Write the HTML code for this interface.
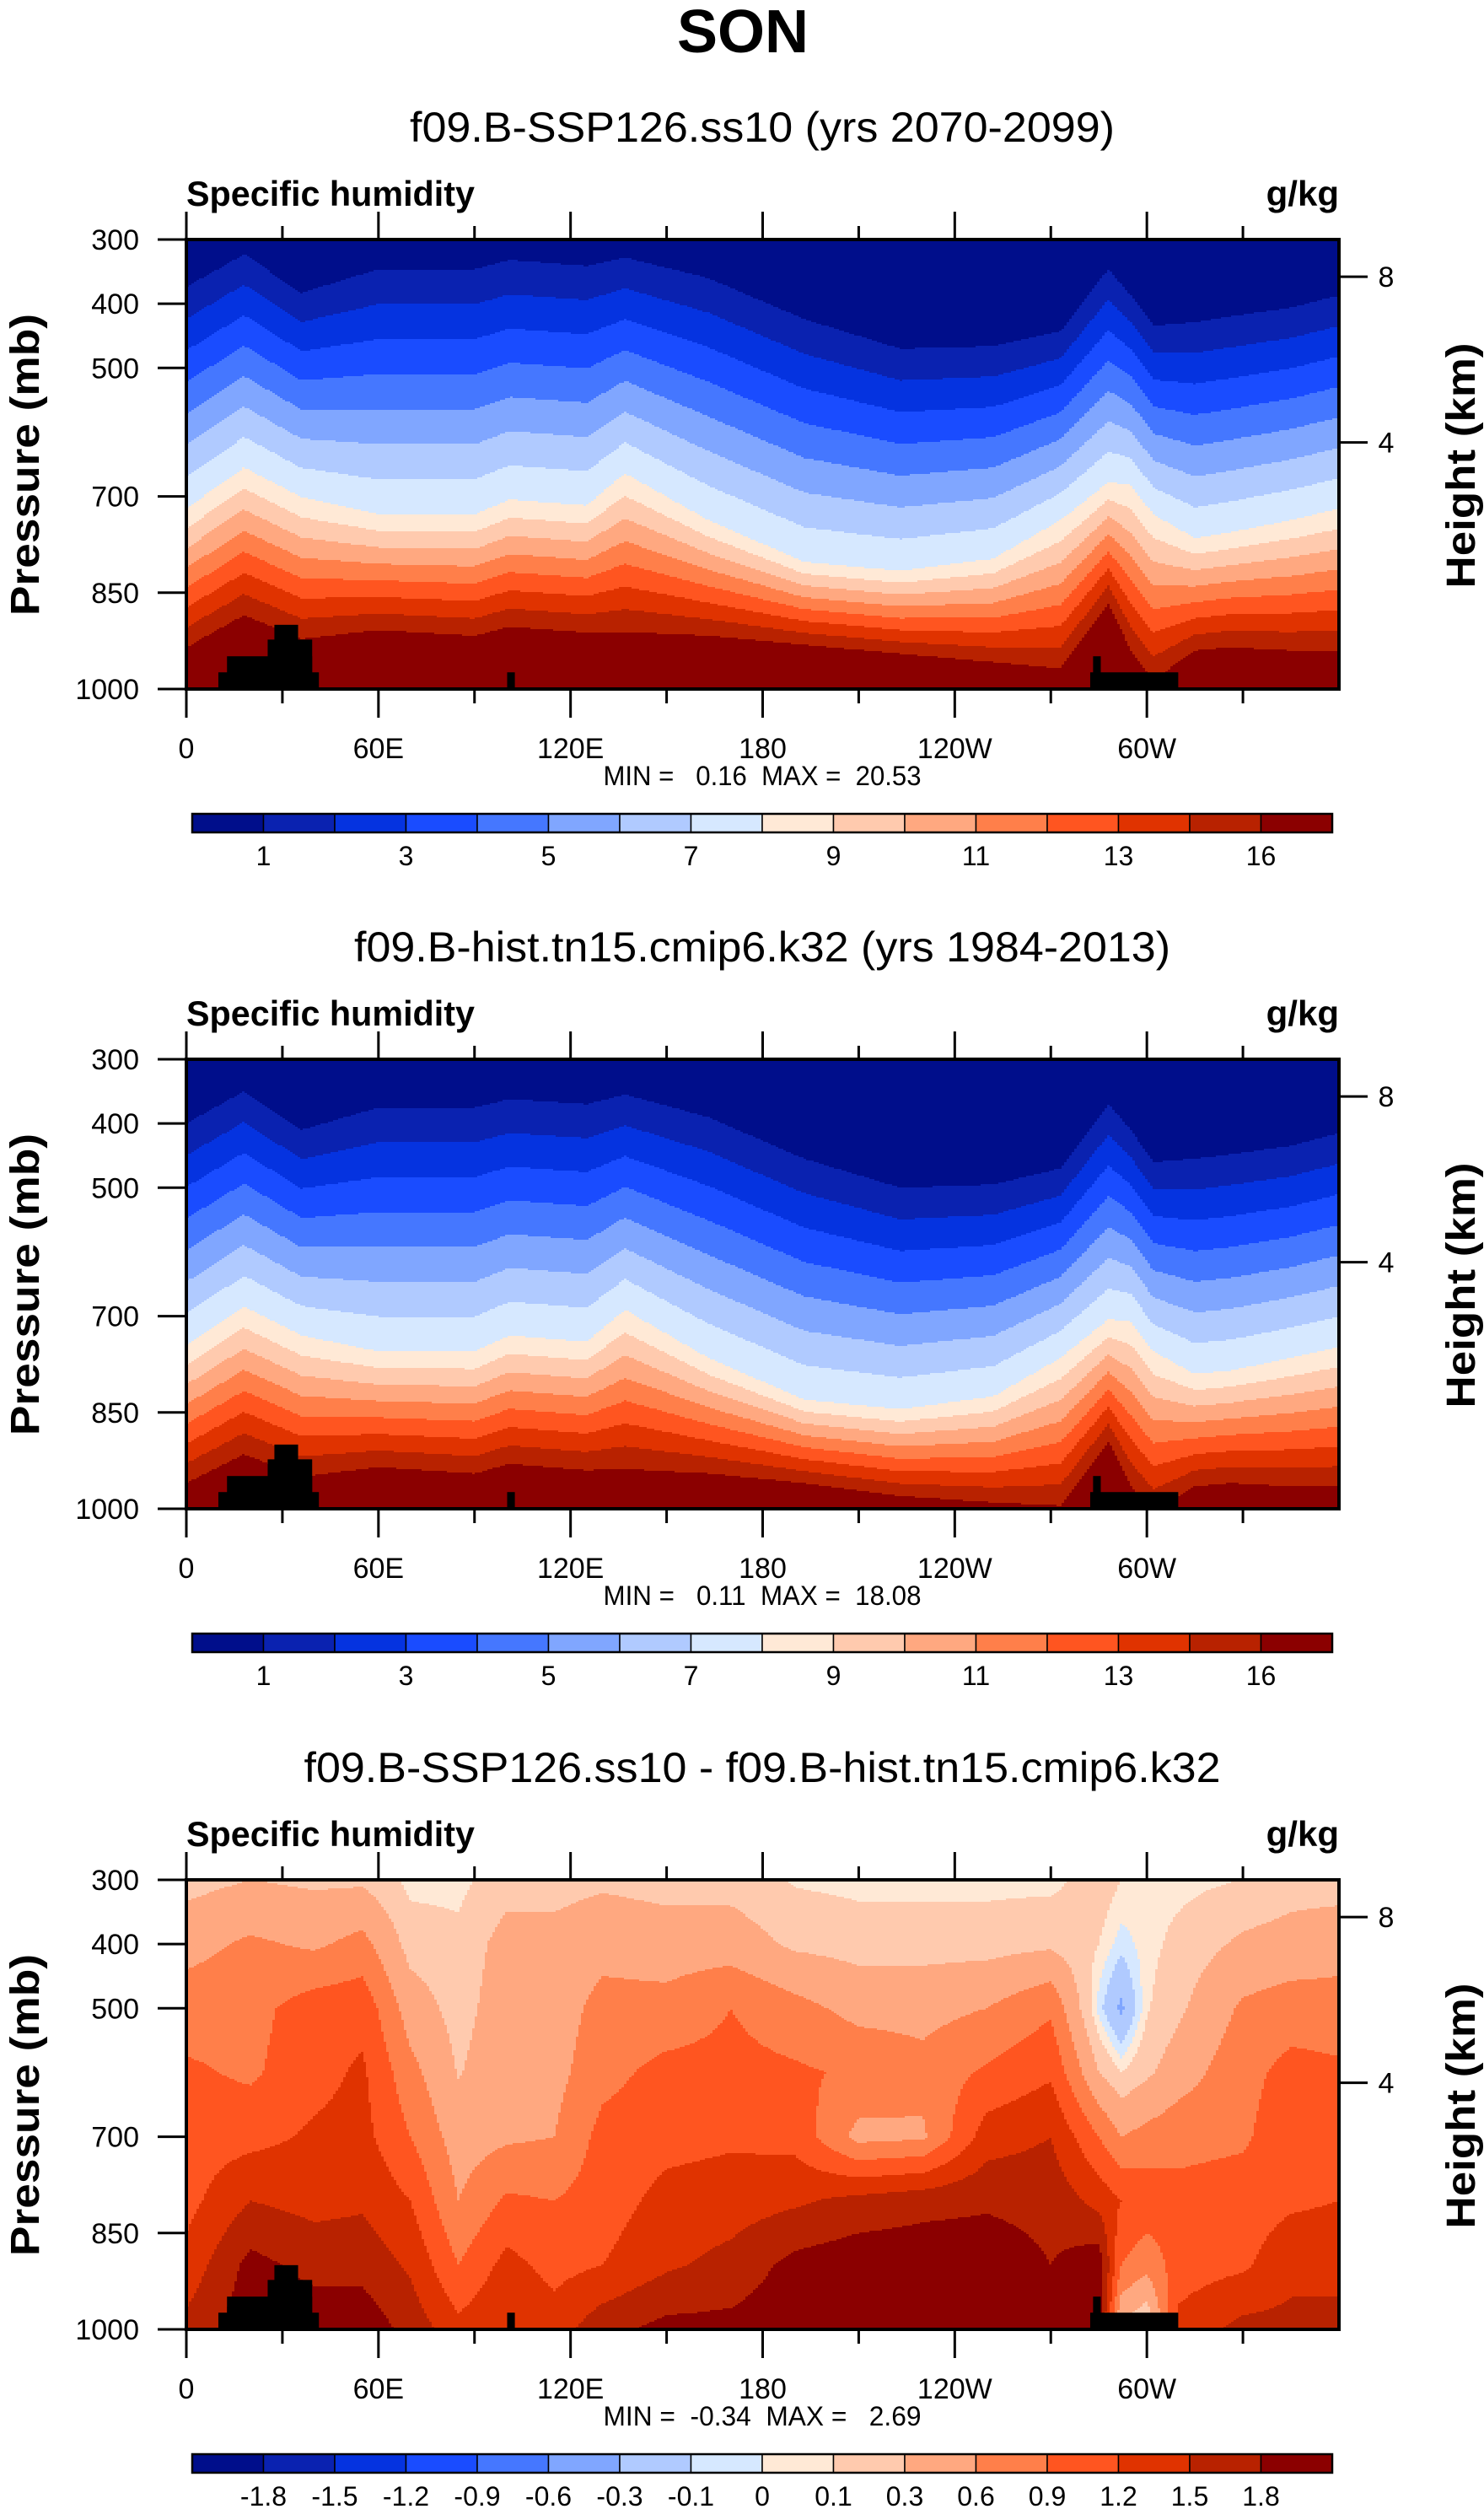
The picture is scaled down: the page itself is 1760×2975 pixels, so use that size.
<!DOCTYPE html>
<html><head><meta charset="utf-8"><style>
html,body{margin:0;padding:0;background:#fff;}
svg{display:block;font-family:"Liberation Sans",sans-serif;}
</style></head><body>
<svg id="fig" xmlns="http://www.w3.org/2000/svg" width="1760" height="2975" viewBox="0 0 1760 2975">
<rect x="0" y="0" width="1760" height="2975" fill="#fff"/>
<text x="881" y="62" text-anchor="middle" font-size="72" font-weight="bold">SON</text>
</svg>
<script>
// ---- data ----
const lonNodes=[0,18,36,60,90,101,125,137,163,193,223,252,273,288,295,302,315,326,345,360];
// pressure (mb) of contour boundaries q=1, q=8 and start of darkest band
const sspQ1=[374,323,383,346,346,332,341,328,360,424,470,466,443,346,387,434,429,420,406,387];
const sspQ8=[719,655,701,728,728,705,714,664,737,802,816,797,737,678,682,728,765,756,737,719];
const sspQ15=[935,885,922,908,917,903,912,911,917,931,945,958,968,866,940,986,940,935,940,940];
const histQ1=[400,350,410,375,375,362,370,355,390,455,500,495,470,370,410,460,455,448,435,415];
const histQ8=[745,685,730,755,755,730,740,690,765,830,845,825,765,705,708,755,790,785,765,748];
const histQ15=[960,915,950,935,945,930,940,938,945,960,980,990,995,895,965,1005,965,960,965,965];
// difference field
const diffLons=[0,20,40,55,70,85,100,115,130,150,170,190,210,230,250,270,285,292,300,310,330,345,360];
const diffP=[300,400,500,600,700,800,900,1000];
const diff300=[0.2,0.3,0.25,0.25,0.05,0.05,0.2,0.2,0.25,0.2,0.2,0.08,0.05,0.05,0.05,0.05,0.2,0.1,0.05,0.05,0.1,0.2,0.2];
const diff400=[0.5,0.65,0.55,0.7,0.2,0.15,0.4,0.4,0.5,0.45,0.45,0.25,0.2,0.2,0.2,0.25,0.1,-0.05,0.05,0.15,0.35,0.4,0.45];
const diff500=[0.75,0.8,1.05,1.1,0.45,0.2,0.45,0.45,0.7,0.7,0.9,0.7,0.5,0.5,0.6,0.85,-0.05,-0.35,0.08,0.25,0.65,0.75,0.75];
const diff600=[0.95,0.85,1.1,1.25,0.7,0.28,0.5,0.5,0.8,1.0,1.0,0.95,0.85,0.7,0.95,1.15,0.3,0.1,0.25,0.45,0.8,1.0,0.95];
const diff700=[1.05,1.1,1.25,1.3,0.9,0.45,0.55,0.6,1.0,1.1,1.15,1.1,0.5,0.55,1.35,1.5,0.9,0.6,0.7,0.8,0.85,1.1,1.05];
const diff800=[1.1,1.5,1.4,1.45,1.2,0.6,0.95,0.9,1.05,1.3,1.35,1.45,1.6,1.7,1.75,1.7,1.4,1.2,1.1,1.0,1.05,1.15,1.2];
const diff900=[1.3,1.9,1.7,1.7,1.45,0.9,1.3,1.1,1.2,1.45,1.6,1.9,2.0,2.0,2.0,1.8,2.0,0.9,0.7,1.05,1.15,1.4,1.4];
const diff1000=[1.6,2.0,2.0,2.0,1.7,1.3,1.5,1.35,1.7,1.9,1.9,2.0,2.1,2.1,2.1,1.9,2.0,0.2,0.0,1.3,1.6,1.6,1.6];
const diffLevels=[-1.8,-1.5,-1.2,-0.9,-0.6,-0.3,-0.1,0,0.1,0.3,0.6,0.9,1.2,1.5,1.8];
const terrainLon0=[10,12.7,25.4,27.5,100.2,282.3,283.2];
const terrainLon1=[41.4,39.3,39.3,34.9,102.6,309.8,285.6];
const terrainP=[974,949,923,900,974,974,949];
const palette=["#000e8b","#0a22b0","#0533e0","#1a4cff","#4577ff","#80a6ff","#b0caff","#d6e8ff","#ffe9d6","#ffcaae","#ffa880","#ff7f4a","#ff5520","#e03300","#b82200","#8b0000"];
const qLabels=["1","3","5","7","9","11","13","16"];
const diffLabels=["-1.8","-1.5","-1.2","-0.9","-0.6","-0.3","-0.1","0","0.1","0.3","0.6","0.9","1.2","1.5","1.8"];
const xTickLon=[0,60,120,180,240,300];
const xTickText=["0","60E","120E","180","120W","60W"];
const pTicks=[300,400,500,700,850,1000];
const hTicks=[8,4];
const hTickP=[358,616];

// ---- helpers ----
const NS="http://www.w3.org/2000/svg";
const svg=document.getElementById('fig');
const X0=221,X1=1588,PH=533;
function xScale(lon){return X0+lon/360*(X1-X0);}
function yScale(T,p){return T+(p-300)/700*PH;}
function interp(xs,ys,x){
  if(x<=xs[0])return ys[0];
  for(let i=1;i<xs.length;i++){if(x<=xs[i]){const t=(x-xs[i-1])/(xs[i]-xs[i-1]);return ys[i-1]+t*(ys[i]-ys[i-1]);}}
  return ys[ys.length-1];
}
function mk(tag,attrs,parent){const e=document.createElementNS(NS,tag);for(const k in attrs)e.setAttribute(k,attrs[k]);(parent||svg).appendChild(e);return e;}
function txt(s,attrs,parent){const e=mk('text',attrs,parent);e.textContent=s;return e;}
const diffRows=[diff300,diff400,diff500,diff600,diff700,diff800,diff900,diff1000];
function diffVal(lon,p){
  const col=diffRows.map(r=>interp(diffLons,r,lon));
  return interp(diffP,col,p);
}
function qBand(q1,q8,q15,p){
  if(p<q1)return 0;
  if(p<q8)return Math.min(7,1+Math.floor(7*(p-q1)/(q8-q1)));
  if(p<q15)return Math.min(14,8+Math.floor(7*(p-q8)/(q15-q8)));
  return 15;
}
function diffBand(v){let i=0;while(i<diffLevels.length&&v>=diffLevels[i])i++;return i;}

function panel(T,title,titleLen,minmax,kind,labels){
  const g=mk('g',{});
  
  
  const t=txt(title,{x:904,y:T-116,'text-anchor':'middle','font-size':50,textLength:titleLen,lengthAdjust:'spacingAndGlyphs'},g);
  
  
  const sh=txt('Specific humidity',{x:221,y:T-40,'font-size':42,'font-weight':'bold',textLength:342,lengthAdjust:'spacingAndGlyphs'},g);
  
  
  const un=txt('g/kg',{x:1588,y:T-40,'text-anchor':'end','font-size':42,'font-weight':'bold'},g);
  
  
  // field
  const field=mk('g',{'shape-rendering':'crispEdges'},g);
  
  
  const cw=3;
  for(let x=X0;x<X1;x+=cw){
    const lon=(x+cw/2-X0)/(X1-X0)*360;
    let q1,q8,q15;
    if(kind==='ssp'){q1=interp(lonNodes,sspQ1,lon);q8=interp(lonNodes,sspQ8,lon);q15=interp(lonNodes,sspQ15,lon);}
    else if(kind==='hist'){q1=interp(lonNodes,histQ1,lon);q8=interp(lonNodes,histQ8,lon);q15=interp(lonNodes,histQ15,lon);}
    let start=T,cur=-1;
    const emit=(y0,y1,c)=>{
      const r=mk('rect',{x:x,y:y0,width:Math.min(cw+0.6,X1-x),height:y1-y0+0.6,fill:palette[c]},field);
      
      
    };
    for(let y=T;y<T+PH;y+=2){
      const p=300+(y+1-T)/PH*700;
      const b=(kind==='diff')?diffBand(diffVal(lon,p)):qBand(q1,q8,q15,p);
      if(b!==cur){
        if(cur>=0)emit(start,y,cur);
        start=y;cur=b;
      }
    }
    emit(start,T+PH,cur);
  }
  // terrain
  for(let i=0;i<terrainP.length;i++){
    const r=mk('rect',{x:xScale(terrainLon0[i]),y:yScale(T,terrainP[i]),width:xScale(terrainLon1[i])-xScale(terrainLon0[i]),height:yScale(T,1000)-yScale(T,terrainP[i]),fill:'#000'},g);
    
    
  }
  const fr=mk('rect',{x:X0,y:T,width:X1-X0,height:PH,fill:'none',stroke:'#000','stroke-width':4},g);
  
  
  // x ticks
  for(let lon=0;lon<360;lon+=30){
    const maj=lon%60===0;const x=xScale(lon);
    const a=mk('line',{x1:x,x2:x,y1:T,y2:T-(maj?33:16),stroke:'#000','stroke-width':3},g);
    
    
    const b=mk('line',{x1:x,x2:x,y1:T+PH,y2:T+PH+(maj?34:17),stroke:'#000','stroke-width':3},g);
    
    
  }
  xTickLon.forEach((lon,i)=>{
    const l=txt(xTickText[i],{x:xScale(lon),y:T+615,'text-anchor':'middle','font-size':34},g);
    
    
  });
  pTicks.forEach(p=>{
    const y=yScale(T,p);
    const l=mk('line',{x1:X0,x2:X0-34,y1:y,y2:y,stroke:'#000','stroke-width':3},g);
    
    
    const s=txt(String(p),{x:165,y:y+12,'text-anchor':'end','font-size':34},g);
    
    
  });
  hTicks.forEach((h,i)=>{
    const y=yScale(T,hTickP[i]);
    const l=mk('line',{x1:X1,x2:X1+34,y1:y,y2:y,stroke:'#000','stroke-width':3},g);
    
    
    const s=txt(String(h),{x:1644,y:y+12,'text-anchor':'middle','font-size':34},g);
    
    
  });
  const pl=txt('Pressure (mb)',{x:0,y:0,'font-size':48,'font-weight':'bold','text-anchor':'middle',textLength:358,lengthAdjust:'spacingAndGlyphs',transform:'translate(46,'+(T+267)+') rotate(-90)'},g);
  
  
  const hl=txt('Height (km)',{x:0,y:0,'font-size':48,'font-weight':'bold','text-anchor':'middle',textLength:291,lengthAdjust:'spacingAndGlyphs',transform:'translate(1749,'+(T+268)+') rotate(-90)'},g);
  
  
  const mm=txt(minmax,{x:904,y:T+647,'text-anchor':'middle','font-size':32,textLength:377,lengthAdjust:'spacingAndGlyphs','xml:space':'preserve'},g);
  mm.style.whiteSpace='pre';
  
  
  // colorbar
  const cb0=228,cb1=1580,cbw=(cb1-cb0)/16,cy=T+681,ch=22;
  for(let i=0;i<16;i++){
    const r=mk('rect',{x:cb0+i*cbw,y:cy,width:cbw,height:ch,fill:palette[i],stroke:'#000','stroke-width':1.5},g);
    
    
  }
  const cbf=mk('rect',{x:cb0,y:cy,width:cb1-cb0,height:ch,fill:'none',stroke:'#000','stroke-width':2.5},g);
  
  
  labels.forEach((s,i)=>{
    const k=(labels.length===8)?(2*i+1):(i+1);
    const l=txt(s,{x:cb0+k*cbw,y:T+742,'text-anchor':'middle','font-size':32},g);
    
    
  });
}
panel(284,'f09.B-SSP126.ss10 (yrs 2070-2099)',836,'MIN =   0.16  MAX =  20.53','ssp',qLabels);
panel(1256,'f09.B-hist.tn15.cmip6.k32 (yrs 1984-2013)',968,'MIN =   0.11  MAX =  18.08','hist',qLabels);
panel(2229,'f09.B-SSP126.ss10 - f09.B-hist.tn15.cmip6.k32',1087,'MIN =  -0.34  MAX =   2.69','diff',diffLabels);
</script>
</body></html>
